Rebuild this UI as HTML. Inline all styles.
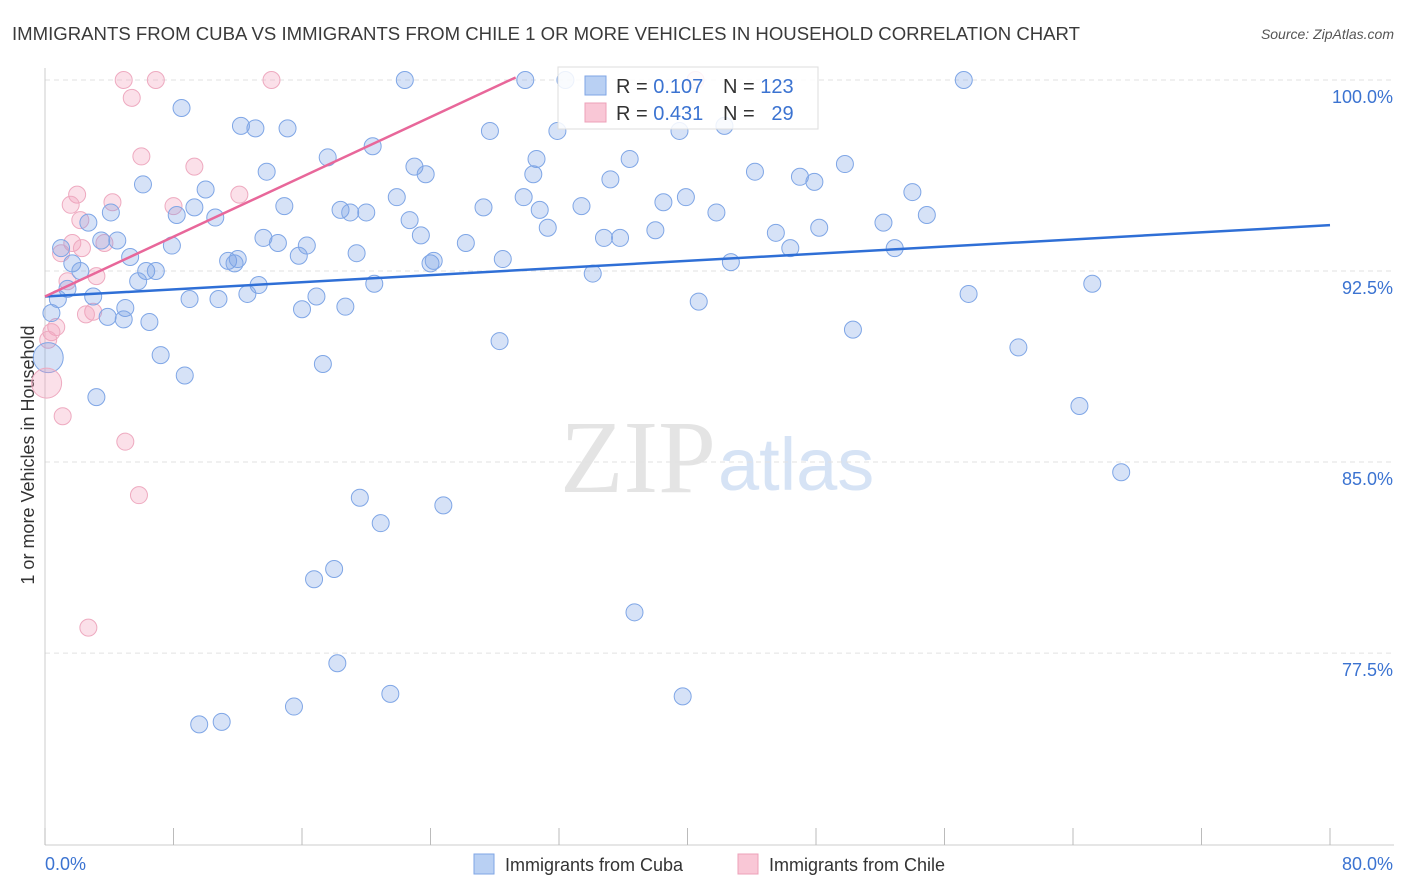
<!DOCTYPE html>
<html><head><meta charset="utf-8"><style>
body{margin:0;background:#fff;font-family:"Liberation Sans",sans-serif;}
svg{display:block}
</style></head><body>
<svg id="chart" width="1406" height="892" xmlns="http://www.w3.org/2000/svg">
<text x="12" y="40" font-size="18" fill="#3a3a3a" textLength="1068" lengthAdjust="spacingAndGlyphs">IMMIGRANTS FROM CUBA VS IMMIGRANTS FROM CHILE 1 OR MORE VEHICLES IN HOUSEHOLD CORRELATION CHART</text>
<text x="1394" y="39" font-size="14" fill="#555" font-style="italic" text-anchor="end">Source: ZipAtlas.com</text>
<text x="716" y="492" font-size="104" fill="#e4e4e4" text-anchor="end" font-family="Liberation Serif,serif">ZIP</text>
<text x="718" y="490" font-size="74" fill="#d6e3f5">atlas</text>
<text transform="translate(34,455) rotate(-90)" font-size="18" fill="#333" text-anchor="middle">1 or more Vehicles in Household</text>
<g id="grid"></g><g id="axes"></g><g id="marks"></g>
<g>
<rect x="558" y="67" width="260" height="62" fill="rgba(255,255,255,0.85)" stroke="#ddd"/>
<rect x="585" y="76" width="21" height="19" fill="#b9d0f3" stroke="#7fa6e6"/>
<rect x="585" y="103" width="21" height="19" fill="#f9c7d6" stroke="#eda0b8"/>
<text x="616" y="93" font-size="20" fill="#333">R = <tspan fill="#3b73d1">0.107</tspan></text>
<text x="723" y="93" font-size="20" fill="#333">N = <tspan fill="#3b73d1">123</tspan></text>
<text x="616" y="120" font-size="20" fill="#333">R = <tspan fill="#3b73d1">0.431</tspan></text>
<text x="723" y="120" font-size="20" fill="#333">N = <tspan fill="#3b73d1">&#160;&#160;29</tspan></text>
</g>
<g>
<rect x="474" y="854" width="20" height="20" fill="#b9d0f3" stroke="#7fa6e6"/>
<text x="505" y="871" font-size="18" fill="#333">Immigrants from Cuba</text>
<rect x="738" y="854" width="20" height="20" fill="#f9c7d6" stroke="#eda0b8"/>
<text x="769" y="871" font-size="18" fill="#333">Immigrants from Chile</text>
</g>
</svg>
<script>
const cubaX=[22.4,29.9,32.4,57.2,8.5,12.2,13.1,15.1,27.7,31.9,39.5,42.3,17.6,20.4,30.6,36.4,49.8,13.8,23.0,23.7,30.4,35.2,44.2,47.0,47.9,6.1,10.0,14.9,21.9,27.3,29.8,33.4,38.5,39.9,54.0,4.1,8.2,9.3,10.6,18.4,19.0,20.0,22.7,30.8,31.3,41.8,54.9,2.7,1.0,3.5,4.5,7.9,13.6,14.5,16.3,19.4,23.4,26.2,34.8,35.8,38.0,45.5,46.4,48.2,52.2,52.9,5.3,11.4,12.0,11.8,15.8,28.5,24.0,24.2,42.7,1.7,2.2,6.3,6.9,5.8,13.3,20.5,34.1,1.4,0.8,3.0,9.0,10.8,12.6,16.9,16.0,18.7,5.0,3.9,4.9,6.5,40.7,57.5,65.2,0.4,7.2,8.7,17.3,28.3,50.3,60.6,3.2,64.4,67.0,19.6,24.8,20.9,18.0,16.75,36.7,18.2,21.5,39.7,15.5,9.6,11.0];
const cubaY=[100,100,100,100,98.9,98.2,98.1,98.1,98.0,98.0,98.0,98.2,96.96,97.4,96.9,96.9,96.7,96.4,96.6,96.3,96.3,96.1,96.4,96.2,96.0,95.9,95.7,95.05,95.4,95.0,95.4,95.05,95.2,95.4,95.6,94.8,94.7,95.0,94.6,94.9,94.8,94.8,94.5,94.9,94.2,94.8,94.7,94.4,93.4,93.7,93.7,93.5,93.8,93.6,93.5,93.2,93.9,93.6,93.8,93.8,94.1,94.0,93.4,94.2,94.4,93.4,93.05,92.9,92.97,92.8,93.1,92.97,92.8,92.9,92.85,92.8,92.5,92.5,92.5,92.1,91.95,92.0,92.4,91.8,91.4,91.5,91.4,91.4,91.6,91.5,91.0,91.1,91.05,90.7,90.6,90.5,91.3,91.6,92.0,90.85,89.2,88.4,88.85,89.75,90.2,89.5,87.55,87.2,84.6,83.6,83.3,82.6,80.8,80.4,79.1,77.1,75.9,75.8,75.4,74.7,74.8];
const cubaLargeX=[0.2], cubaLargeY=[89.1];
const chileX=[4.9,6.9,14.1,40.5,5.4,6.0,9.3,2.0,4.2,1.6,8.0,12.1,2.2,1.7,2.3,3.7,1.0,1.4,3.2,3.0,2.55,0.7,0.4,0.2,1.1,5.0,5.85,2.7];
const chileY=[100,100,100,100,99.3,97.0,96.6,95.5,95.2,95.1,95.05,95.5,94.5,93.6,93.4,93.6,93.2,92.1,92.3,90.9,90.8,90.3,90.1,89.8,86.8,85.8,83.7,78.5];
const chileLargeX=[0.1], chileLargeY=[88.1];
const cubaTrendX=[0,80], cubaTrendY=[91.5,94.3];
const chileTrendX=[0,29.3], chileTrendY=[91.5,100.1];
const yTicks=[100,92.5,85,77.5];
const yTickLabels=["100.0%","92.5%","85.0%","77.5%"];
const xTicks=[0,8,16,24,32,40,48,56,64,72,80];
const xEndLabels=["0.0%","80.0%"];

const NS="http://www.w3.org/2000/svg";
const X0=45,X1=1330,Y100=80,PPU=25.47;
const sx=v=>X0+(X1-X0)*v/80;
const sy=v=>Y100+(100-v)*PPU;
function mk(tag,attrs,parent){const e=document.createElementNS(NS,tag);for(const k in attrs)e.setAttribute(k,attrs[k]);parent.appendChild(e);return e;}
const grid=document.getElementById('grid'),axes=document.getElementById('axes'),marks=document.getElementById('marks');
yTicks.forEach((t,i)=>{
 const l=mk('line',{x1:X0,x2:1394,y1:sy(t),y2:sy(t),stroke:'#e2e2e2','stroke-dasharray':'5,4'},grid);
 
 
 const tx=mk('text',{x:1393,y:sy(t)+23,'font-size':18,fill:'#3b73d1','text-anchor':'end'},axes);
 tx.textContent=yTickLabels[i];
 
 
});
const ax=mk('line',{x1:X0,x2:1394,y1:845,y2:845,stroke:'#ccc'},axes);


const ay=mk('line',{x1:X0,x2:X0,y1:68,y2:845,stroke:'#ccc'},axes);


xTicks.forEach(t=>{
 const l=mk('line',{x1:sx(t),x2:sx(t),y1:828,y2:845,stroke:'#bbb'},axes);
 
 
});
const xl0=mk('text',{x:45,y:870,'font-size':18,fill:'#3b73d1'},axes);xl0.textContent=xEndLabels[0];


const xl1=mk('text',{x:1393,y:870,'font-size':18,fill:'#3b73d1','text-anchor':'end'},axes);xl1.textContent=xEndLabels[1];


function pts(xs,ys,r,fill,stroke,name){xs.forEach((v,i)=>{
 const c=mk('circle',{cx:sx(v),cy:sy(ys[i]),r:r,fill:fill,stroke:stroke,'stroke-width':1},marks);
 
 
});}
pts(chileX,chileY,8.5,'rgba(244,160,188,0.32)','#eeaac0','chile-point');
pts(cubaX,cubaY,8.5,'rgba(120,160,230,0.3)','#7fa6e6','cuba-point');
pts(cubaLargeX,cubaLargeY,15,'rgba(120,160,230,0.3)','#7fa6e6','cuba-point-large');
pts(chileLargeX,chileLargeY,15,'rgba(244,160,188,0.32)','#eeaac0','chile-point-large');
const tb=mk('line',{x1:sx(cubaTrendX[0]),y1:sy(cubaTrendY[0]),x2:sx(cubaTrendX[1]),y2:sy(cubaTrendY[1]),stroke:'#2f6fd6','stroke-width':2.5},marks);


const tp=mk('line',{x1:sx(chileTrendX[0]),y1:sy(chileTrendY[0]),x2:sx(chileTrendX[1]),y2:sy(chileTrendY[1]),stroke:'#e8679a','stroke-width':2.5},marks);


</script>
</body></html>
